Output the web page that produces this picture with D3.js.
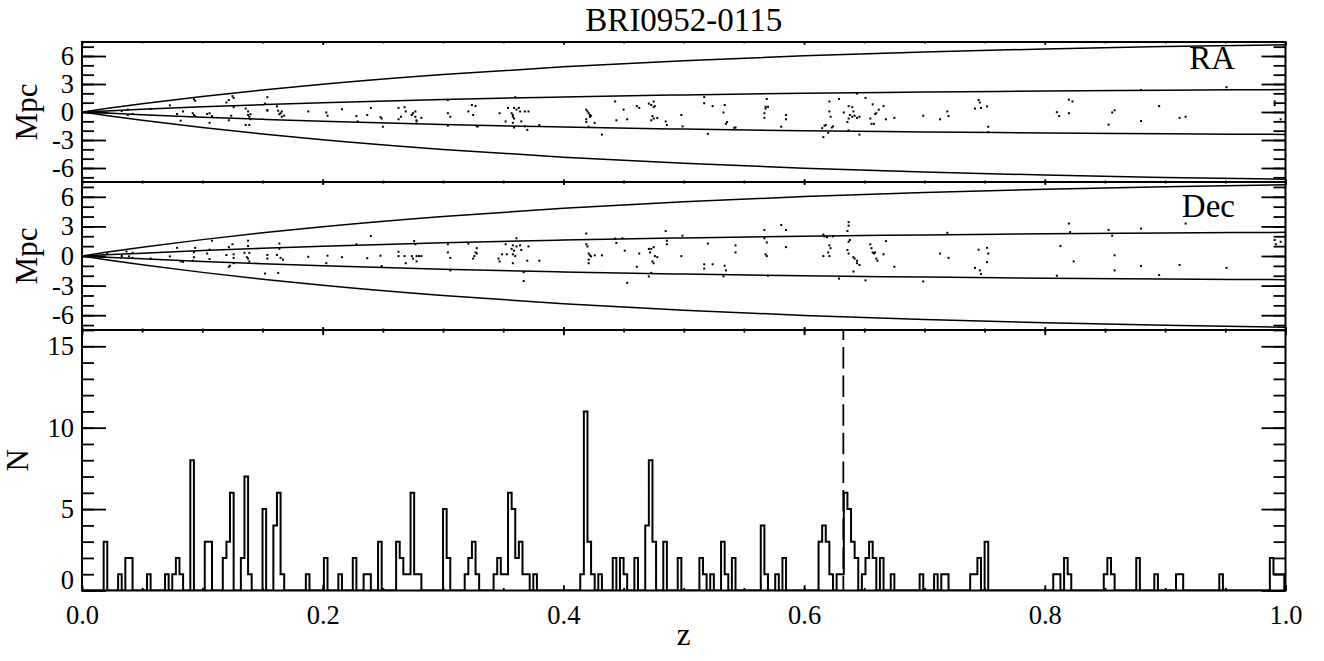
<!DOCTYPE html>
<html>
<head>
<meta charset="utf-8">
<script src="https://cdn.jsdelivr.net/npm/d3@7"></script>
<style>
  body { margin: 0; background: #fff; }
  svg { display: block; }
  text { font-family: "Liberation Serif", "DejaVu Serif", serif; fill: #000; }
</style>
</head>
<body>
<svg id="chart" width="1324" height="661"></svg>
<script>
// ---- data ----
const TITLE = "BRI0952-0115";
const BIN_WIDTH = 0.003;
const CLUSTER_Z = 0.6326;

// histogram: lower edge of each non-empty bin and its count
const HIST_LO = [0.018,0.030,0.036,0.039,0.054,0.069,0.075,0.078,0.081,0.090,0.102,0.105,0.117,0.120,0.123,
  0.132,0.135,0.138,0.150,0.159,0.162,0.165,0.186,0.201,0.213,0.225,0.234,0.237,0.246,0.261,0.264,0.267,
  0.270,0.273,0.276,0.279,0.300,0.303,0.318,0.321,0.324,0.327,0.342,0.345,0.348,0.351,0.354,0.357,0.360,
  0.363,0.366,0.369,0.375,0.414,0.417,0.420,0.423,0.429,0.441,0.447,0.450,0.459,0.468,0.471,0.474,0.483,
  0.495,0.513,0.516,0.522,0.531,0.534,0.540,0.564,0.567,0.576,0.582,0.612,0.615,0.618,0.621,0.627,0.630,
  0.633,0.636,0.639,0.642,0.648,0.651,0.654,0.657,0.663,0.672,0.696,0.708,0.714,0.717,0.738,0.741,0.744,
  0.750,0.807,0.810,0.816,0.819,0.849,0.852,0.855,0.876,0.891,0.909,0.912,0.945,0.987,0.990,0.993,0.996];
const HIST_N = [3,1,2,2,1,1,1,2,1,8,3,3,2,3,6,
  2,7,1,5,4,6,1,1,2,1,2,1,1,3,3,2,1,
  1,6,1,1,5,2,1,2,3,1,1,2,1,1,6,5,2,
  3,1,1,1,1,11,3,1,1,2,2,1,2,4,8,3,3,
  2,2,1,1,3,1,2,4,1,1,2,3,4,3,1,1,1,
  6,5,3,2,1,2,3,2,2,1,1,1,1,1,1,1,2,
  3,1,1,2,1,1,2,1,2,1,1,1,1,2,1,1,1];

// 5' and 15' radius envelopes (Mpc) versus z
const ENV_Z     = [0, 0.02, 0.05, 0.10, 0.15, 0.20, 0.30, 0.40, 0.50, 0.60, 0.70, 0.80, 0.90, 1.00];
const ENV_INNER = [0, 0.12, 0.29, 0.55, 0.78, 0.99, 1.34, 1.61, 1.83, 2.01, 2.14, 2.25, 2.34, 2.40];
const ENV_OUTER = [0, 0.37, 0.88, 1.66, 2.35, 2.97, 4.01, 4.84, 5.49, 6.02, 6.43, 6.76, 7.01, 7.21];

const RA_Z = [0.021,0.033,0.038,0.038,0.042,0.057,0.073,0.079,0.084,0.082,0.093,0.094,0.092,0.093,0.094,
  0.104,0.106,0.106,0.108,0.120,0.122,0.125,0.126,0.122,0.124,0.126,0.136,0.138,0.138,0.139,0.140,0.136,
  0.139,0.140,0.152,0.154,0.154,0.154,0.162,0.163,0.164,0.165,0.166,0.166,0.168,0.188,0.203,0.204,0.216,
  0.228,0.229,0.237,0.240,0.248,0.249,0.250,
  0.263,0.263,0.265,0.268,0.269,0.274,0.275,0.277,0.277,0.278,0.278,0.282,0.304,0.304,0.306,0.304,0.321,
  0.324,0.327,0.325,0.328,0.329,0.347,0.352,0.354,0.357,0.358,0.358,0.359,0.359,0.360,0.361,0.363,0.364,
  0.358,0.359,0.365,0.368,0.368,0.370,0.371,0.380,0.419,0.420,0.421,0.422,0.422,0.419,0.419,0.421,0.423,
  0.426,0.432,0.443,0.444,0.450,0.453,0.461,0.463,0.471,0.473,0.475,0.475,0.476,0.474,0.475,0.473,0.478,
  0.485,0.486,0.498,0.499,
  0.517,0.517,0.520,0.524,0.533,0.534,0.535,0.536,0.542,0.543,0.567,0.567,0.568,0.568,0.569,0.570,0.581,
  0.585,0.585,0.615,0.616,0.617,0.618,0.620,0.621,0.621,0.622,0.623,0.624,0.629,0.633,0.636,0.637,0.637,
  0.637,0.638,0.640,0.640,0.641,0.642,0.644,0.644,0.646,0.646,0.651,0.655,0.656,0.657,0.658,0.659,0.660,
  0.662,0.666,0.668,0.675,0.699,0.713,0.719,0.720,0.742,0.745,0.746,0.747,0.752,0.753,0.753,
  0.810,0.812,0.820,0.820,0.823,0.853,0.856,0.858,0.880,0.880,0.895,0.912,0.917,0.951,0.991,0.991,0.996];
const RA_MPC = [-0.10,0.10,0.25,-0.32,-0.21,0.33,0.71,-0.21,0.06,-0.93,1.36,1.21,-0.13,-0.32,-0.44,
  -0.21,-0.13,-1.16,-0.44,1.02,1.28,1.70,1.51,-0.89,-0.40,0.52,0.37,0.06,-0.32,-0.51,-0.78,-1.39,
  -1.39,-0.24,0.90,1.59,0.14,0.21,0.60,0.14,-0.24,-0.13,0.06,-0.51,-0.40,0.06,-0.05,-0.40,0.29,
  -0.44,-1.01,-0.32,0.44,-0.55,-0.70,-1.58,
  0.44,-0.78,-0.51,0.52,0.06,-0.32,-0.13,0.06,-0.51,-0.89,-1.01,-0.63,1.28,-0.13,-0.51,-1.47,0.06,
  0.75,0.63,-0.32,-1.54,-1.54,-0.13,-1.01,0.44,-0.13,-0.51,-0.32,-0.70,0.44,1.59,0.25,0.44,0.06,
  -1.16,-1.66,-1.01,0.06,-1.54,-1.92,0.06,-1.39,0.25,0.06,-0.13,-0.32,-0.51,-0.78,-1.08,-1.58,-0.40,
  -1.16,-2.42,1.13,-0.89,0.25,-0.78,0.63,0.44,0.90,0.75,1.13,0.52,0.63,-0.44,-0.70,-0.89,-0.63,
  -1.01,-1.39,-0.32,-1.54,
  1.59,0.94,-2.34,0.63,-0.05,0.75,-1.27,-1.08,-1.69,-1.66,-0.13,-0.63,0.37,0.56,1.40,0.56,-1.58,
  -0.32,-0.78,-1.73,-2.69,-1.47,-1.39,-2.23,0.06,1.13,-0.51,-1.66,-1.54,1.40,-0.05,-1.08,-0.70,-1.96,
  0.63,-0.32,-0.51,0.52,0.06,-0.40,-0.63,1.97,-2.42,-0.51,1.51,-0.70,-1.27,0.82,-1.27,-0.21,-0.13,
  0.25,0.63,-0.78,-0.63,-0.40,-0.78,0.06,-0.44,0.37,1.28,1.02,0.44,0.60,-1.58,-2.15,
  -0.02,-0.44,-0.13,1.32,1.13,-1.35,-0.05,0.18,2.35,-0.97,0.63,-0.63,-0.51,2.66,1.13,0.75,-0.78];

const DEC_Z = [0.021,0.033,0.037,0.039,0.042,0.042,0.057,0.073,0.079,0.082,0.084,0.093,0.094,0.093,0.092,
  0.104,0.106,0.106,0.108,0.120,0.122,0.123,0.122,0.125,0.126,0.126,0.126,0.135,0.137,0.138,0.138,0.138,
  0.139,0.139,0.152,0.154,0.154,0.162,0.163,0.164,0.164,0.165,0.167,0.188,0.203,0.204,0.216,0.228,0.237,
  0.240,0.248,0.249,
  0.263,0.263,0.268,0.269,0.274,0.275,0.276,0.277,0.278,0.278,0.280,0.282,0.304,0.304,0.306,0.306,0.321,
  0.325,0.326,0.327,0.328,0.328,0.346,0.347,0.349,0.352,0.353,0.357,0.358,0.358,0.359,0.360,0.358,0.361,
  0.361,0.364,0.365,0.367,0.367,0.370,0.371,0.380,0.419,0.419,0.420,0.421,0.422,0.423,0.421,0.421,0.426,
  0.432,0.443,0.444,0.449,0.451,0.453,0.461,0.463,0.471,0.472,0.473,0.475,0.476,0.478,0.474,0.475,0.471,
  0.473,0.485,0.486,0.486,0.498,0.499,
  0.517,0.517,0.520,0.524,0.534,0.535,0.533,0.543,0.543,0.567,0.567,0.569,0.568,0.569,0.570,0.581,0.585,
  0.585,0.616,0.617,0.619,0.624,0.621,0.622,0.620,0.621,0.616,0.629,0.637,0.637,0.636,0.638,0.637,0.636,
  0.637,0.641,0.642,0.644,0.644,0.646,0.641,0.651,0.655,0.656,0.657,0.658,0.660,0.661,0.659,0.666,0.668,
  0.675,0.699,0.713,0.719,0.720,0.742,0.745,0.746,0.747,0.752,0.753,0.752,
  0.810,0.813,0.820,0.821,0.824,0.853,0.856,0.858,0.858,0.880,0.880,0.895,0.912,0.917,0.951,0.991,0.992,0.996];
const DEC_MPC = [0.25,0.00,0.46,-0.04,0.32,-0.19,-0.26,-0.04,0.83,-0.55,-0.59,0.39,0.83,-0.12,-0.48,
  0.25,0.64,-0.30,1.55,0.10,0.90,-0.99,-1.09,1.19,0.17,-0.19,-0.73,0.32,-0.12,1.55,-0.26,1.01,
  0.32,-0.55,-1.78,0.10,-0.26,0.10,-1.71,1.26,0.72,-0.19,-0.37,-0.08,-0.73,0.03,-0.12,1.19,-0.22,
  2.02,0.03,-1.02,
  0.43,-0.01,-0.01,-0.73,-0.01,-0.26,1.51,1.19,-0.01,-0.55,-0.01,-0.01,1.19,0.36,-0.19,-1.46,1.26,
  -0.26,-0.01,0.36,0.79,0.25,-0.26,-0.55,0.17,1.19,0.17,0.72,0.17,1.08,0.54,-0.01,-0.73,1.80,
  0.97,1.08,0.61,-1.64,-2.54,-0.48,0.97,-0.48,2.28,1.19,0.97,0.25,0.07,-0.04,-0.37,-0.73,0.07,
  0.07,1.77,1.33,1.80,0.54,-2.72,-1.09,0.25,0.72,0.36,0.72,0.90,-0.01,-0.12,-0.55,-0.73,-2.07,
  -1.71,2.53,1.55,1.19,-0.01,2.06,
  -0.84,-1.28,1.26,-0.84,-0.99,-1.46,-2.07,1.08,0.36,2.64,1.80,1.37,0.17,-0.01,-2.00,3.14,2.64,
  0.90,2.17,1.99,1.91,1.99,1.08,0.79,0.36,-0.01,-0.01,-2.29,3.43,3.07,2.53,1.62,1.44,0.61,
  0.25,-0.12,-0.26,-0.48,-0.73,-0.91,-1.57,-2.47,1.19,0.79,0.36,0.25,-0.26,-0.48,0.36,0.17,1.51,
  -1.09,-2.58,0.25,2.35,-0.19,-1.20,0.64,-1.46,-1.82,0.83,0.25,-0.62,
  -2.00,1.01,3.29,2.42,-0.55,2.64,2.06,0.07,-1.46,2.78,-1.02,-1.93,-0.91,3.29,-1.20,1.62,1.19,1.44];

const X_MAJOR = [0, 0.2, 0.4, 0.6, 0.8, 1.0];
const X_MINOR = d3.range(0, 1.0001, 0.05);

// ---- layout ----
const X0 = 82, X1 = 1285.5;
const svg = d3.select("#chart");
const x = d3.scaleLinear().domain([0, 1]).range([X0, X1]);

const panels = [
  { id: "ra",  top: 42,  bottom: 182,   domain: [-7.5, 7.5], major: [-6, -3, 0, 3, 6], minor: d3.range(-7, 8),
    ytitle: "Mpc", tag: "RA",  zs: RA_Z,  vs: RA_MPC },
  { id: "dec", top: 182, bottom: 330,   domain: [-7.5, 7.5], major: [-6, -3, 0, 3, 6], minor: d3.range(-7, 8),
    ytitle: "Mpc", tag: "Dec", zs: DEC_Z, vs: DEC_MPC },
  { id: "hist", top: 330, bottom: 590.5, domain: [0, 16], major: [0, 5, 10, 15], minor: d3.range(0, 17),
    ytitle: "N" }
];

const defs = svg.append("defs");

panels.forEach(p => {
  const y = d3.scaleLinear().domain(p.domain).range([p.bottom, p.top]);
  const g = svg.append("g").attr("class", "panel-" + p.id);
  const h = p.bottom - p.top;

  defs.append("clipPath").attr("id", "clip-" + p.id)
    .append("rect").attr("x", X0).attr("y", p.top).attr("width", X1 - X0).attr("height", h);

  const body = g.append("g").attr("clip-path", "url(#clip-" + p.id + ")");

  if (p.id !== "hist") {
    // envelope curves
    const line = d3.line().x((d, i) => x(ENV_Z[i])).y(d => y(d)).curve(d3.curveMonotoneX);
    [ENV_INNER, ENV_OUTER].forEach(arr => {
      [1, -1].forEach(s => {
        body.append("path")
          .attr("d", line(arr.map(v => s * v)))
          .attr("fill", "none").attr("stroke", "#000").attr("stroke-width", 1.5);
      });
    });
    // galaxies
    body.selectAll("rect.pt").data(p.zs.map((z, i) => [z, p.vs[i]])).enter()
      .append("rect").attr("class", "pt")
      .attr("x", d => x(d[0]) - 1).attr("y", d => y(d[1]) - 1)
      .attr("width", 2).attr("height", 2).attr("fill", "#000");

    g.append("text").attr("x", 1235).attr("y", p.id === "ra" ? 69 : 217)
      .attr("text-anchor", "end").style("font-size", "33px").text(p.tag);
  } else {
    const nBins = Math.round(1 / BIN_WIDTH) + 1;
    const counts = new Array(nBins).fill(0);
    HIST_LO.forEach((z, i) => { counts[Math.round(z / BIN_WIDTH)] = HIST_N[i]; });
    const steps = counts.map((c, i) => [i * BIN_WIDTH, c]);
    steps.push([nBins * BIN_WIDTH, 0]);
    const hline = d3.line().x(d => x(d[0])).y(d => y(d[1])).curve(d3.curveStepAfter);
    body.append("path").attr("d", hline(steps))
      .attr("fill", "none").attr("stroke", "#000").attr("stroke-width", 2);

    body.append("line")
      .attr("x1", x(CLUSTER_Z)).attr("x2", x(CLUSTER_Z))
      .attr("y1", y(16)).attr("y2", y(0))
      .attr("stroke", "#000").attr("stroke-width", 1.8)
      .attr("stroke-dasharray", "21.5,7.1").attr("stroke-dashoffset", 11.6);
  }

  // y axes, ticks pointing inward on both sides
  const fmt = d => String(d);
  g.append("g").attr("transform", `translate(${X0},0)`)
    .call(d3.axisLeft(y).tickValues(p.minor).tickSize(-12).tickFormat(""));
  const yl = g.append("g").attr("class", "ylab").attr("transform", `translate(${X0},0)`)
    .call(d3.axisLeft(y).tickValues(p.major).tickSize(-24).tickPadding(8).tickFormat(fmt));
  g.append("g").attr("transform", `translate(${X1},0)`)
    .call(d3.axisRight(y).tickValues(p.minor).tickSize(-12).tickFormat(""));
  g.append("g").attr("transform", `translate(${X1},0)`)
    .call(d3.axisRight(y).tickValues(p.major).tickSize(-24).tickFormat(""));

  // x ticks on top and bottom edge
  const L = 0.02 * h;
  g.append("g").attr("transform", `translate(0,${p.top})`)
    .call(d3.axisBottom(x).tickValues(X_MINOR).tickSize(L / 2).tickFormat(""));
  g.append("g").attr("transform", `translate(0,${p.top})`)
    .call(d3.axisBottom(x).tickValues(X_MAJOR).tickSize(L).tickFormat(""));
  g.append("g").attr("transform", `translate(0,${p.bottom})`)
    .call(d3.axisBottom(x).tickValues(X_MINOR).tickSize(-L / 2).tickFormat(""));
  g.append("g").attr("class", "xlab").attr("transform", `translate(0,${p.bottom})`)
    .call(d3.axisBottom(x).tickValues(X_MAJOR).tickSize(-L).tickPadding(14.7)
      .tickFormat(p.id === "hist" ? d3.format(".1f") : ""));

  g.selectAll(".domain").remove();
  g.selectAll(".tick line").attr("stroke", "#000").attr("stroke-width", 1.8);
  g.selectAll(".tick text").attr("fill", "#000")
    .style("font-family", "'Liberation Serif', serif").style("font-size", "26.5px");

  // the histogram's zero label sits on the axis rather than centred on it
  if (p.id === "hist") {
    yl.selectAll(".tick text").filter(d => d === 0).attr("dy", "0em").attr("y", -2);
  }

  // frame
  g.append("rect").attr("x", X0).attr("y", p.top).attr("width", X1 - X0).attr("height", h)
    .attr("fill", "none").attr("stroke", "#000").attr("stroke-width", 2);

  // y title
  const yc = (p.top + p.bottom) / 2;
  g.append("text")
    .attr("transform", `translate(${p.id === "hist" ? 28 : 37},${yc}) rotate(-90)`)
    .attr("text-anchor", "middle").style("font-size", "31px").text(p.ytitle);
});

svg.append("text").attr("x", (X0 + X1) / 2).attr("y", 31)
  .attr("text-anchor", "middle").style("font-size", "33px").text(TITLE);
svg.append("text").attr("x", (X0 + X1) / 2).attr("y", 645)
  .attr("text-anchor", "middle").style("font-size", "31px").text("z");
</script>
</body>
</html>
